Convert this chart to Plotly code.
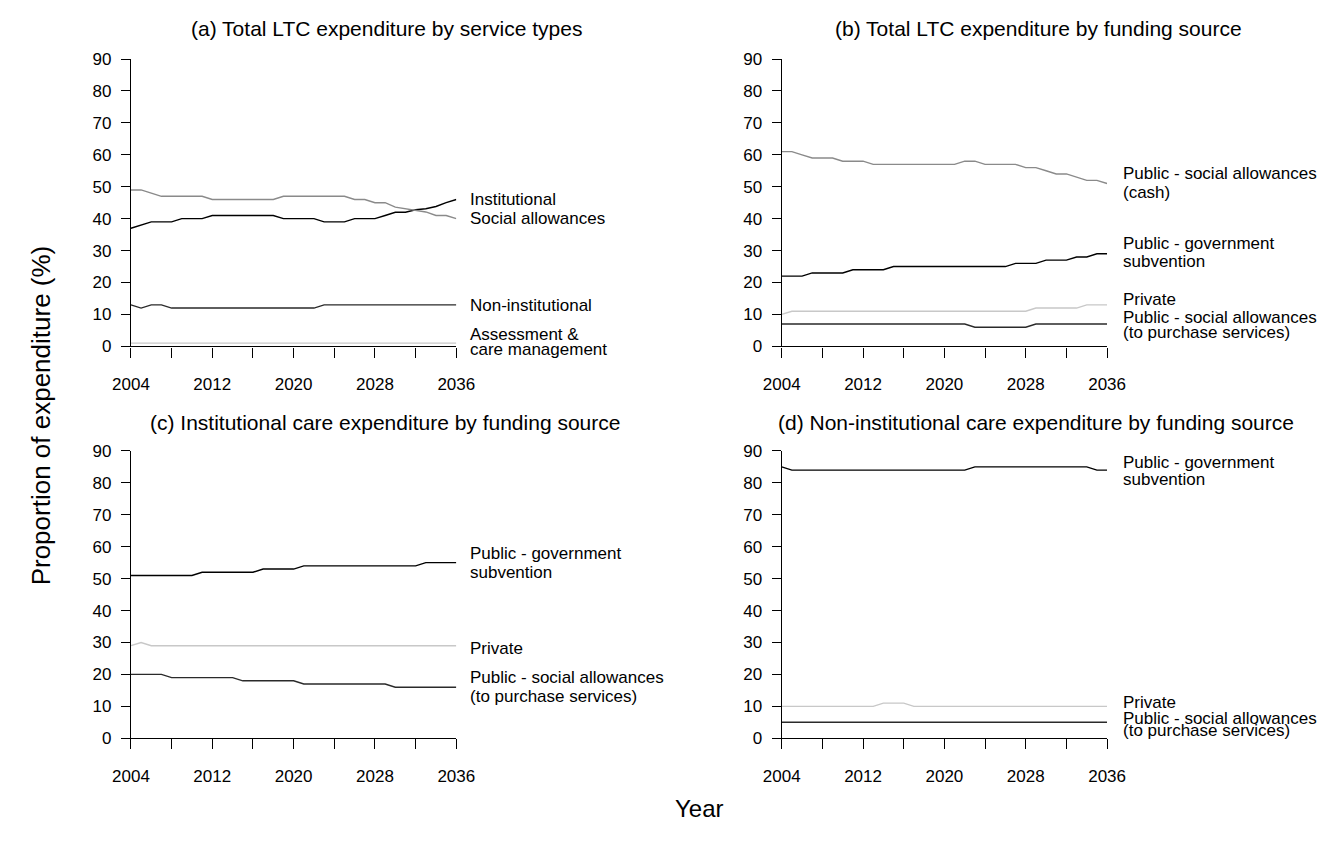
import plotly.graph_objects as go

# ---------------- data ----------------
years = [2004, 2005, 2006, 2007, 2008, 2009, 2010, 2011, 2012, 2013, 2014,
         2015, 2016, 2017, 2018, 2019, 2020, 2021, 2022, 2023, 2024, 2025,
         2026, 2027, 2028, 2029, 2030, 2031, 2032, 2033, 2034, 2035, 2036]

# (a) Total LTC expenditure by service types
a_institutional = [37, 38, 39, 39, 39, 40, 40, 40, 41, 41, 41, 41, 41, 41, 41, 40, 40,
                   40, 40, 39, 39, 39, 40, 40, 40, 41, 42, 42, 42.8, 43.1, 43.8, 45, 46]
a_social = [49, 49, 48, 47, 47, 47, 47, 47, 46, 46, 46, 46, 46, 46, 46, 47, 47,
            47, 47, 47, 47, 47, 46, 46, 45, 45, 43.6, 43.1, 42.8, 42.1, 41, 41, 40]
a_noninst = [13, 12, 13, 13, 12, 12, 12, 12, 12, 12, 12, 12, 12, 12, 12, 12, 12,
             12, 12, 13, 13, 13, 13, 13, 13, 13, 13, 13, 13, 13, 13, 13, 13]
a_assess = [1, 1, 1, 1, 1, 1, 1, 1, 1, 1, 1, 1, 1, 1, 1, 1, 1,
            1, 1, 1, 1, 1, 1, 1, 1, 1, 1, 1, 1, 1, 1, 1, 1]

# (b) Total LTC expenditure by funding source
b_cash = [61, 61, 60, 59, 59, 59, 58, 58, 58, 57, 57, 57, 57, 57, 57, 57, 57,
          57, 58, 58, 57, 57, 57, 57, 56, 56, 55, 54, 54, 53, 52, 52, 51]
b_subvention = [22, 22, 22, 23, 23, 23, 23, 24, 24, 24, 24, 25, 25, 25, 25, 25, 25,
                25, 25, 25, 25, 25, 25, 26, 26, 26, 27, 27, 27, 28, 28, 29, 29]
b_private = [10, 11, 11, 11, 11, 11, 11, 11, 11, 11, 11, 11, 11, 11, 11, 11, 11,
             11, 11, 11, 11, 11, 11, 11, 11, 12, 12, 12, 12, 12, 13, 13, 13]
b_purchase = [7, 7, 7, 7, 7, 7, 7, 7, 7, 7, 7, 7, 7, 7, 7, 7, 7,
              7, 7, 6, 6, 6, 6, 6, 6, 7, 7, 7, 7, 7, 7, 7, 7]

# (c) Institutional care expenditure by funding source
c_subvention = [51, 51, 51, 51, 51, 51, 51, 52, 52, 52, 52, 52, 52, 53, 53, 53, 53,
                54, 54, 54, 54, 54, 54, 54, 54, 54, 54, 54, 54, 55, 55, 55, 55]
c_private = [29, 30, 29, 29, 29, 29, 29, 29, 29, 29, 29, 29, 29, 29, 29, 29, 29,
             29, 29, 29, 29, 29, 29, 29, 29, 29, 29, 29, 29, 29, 29, 29, 29]
c_purchase = [20, 20, 20, 20, 19, 19, 19, 19, 19, 19, 19, 18, 18, 18, 18, 18, 18,
              17, 17, 17, 17, 17, 17, 17, 17, 17, 16, 16, 16, 16, 16, 16, 16]

# (d) Non-institutional care expenditure by funding source
d_subvention = [85, 84, 84, 84, 84, 84, 84, 84, 84, 84, 84, 84, 84, 84, 84, 84, 84,
                84, 84, 85, 85, 85, 85, 85, 85, 85, 85, 85, 85, 85, 85, 84, 84]
d_private = [10, 10, 10, 10, 10, 10, 10, 10, 10, 10, 11, 11, 11, 10, 10, 10, 10,
             10, 10, 10, 10, 10, 10, 10, 10, 10, 10, 10, 10, 10, 10, 10, 10]
d_purchase = [5, 5, 5, 5, 5, 5, 5, 5, 5, 5, 5, 5, 5, 5, 5, 5, 5,
              5, 5, 5, 5, 5, 5, 5, 5, 5, 5, 5, 5, 5, 5, 5, 5]

x_tickvals = [2004, 2008, 2012, 2016, 2020, 2024, 2028, 2032, 2036]
x_ticktext = ["2004", "", "2012", "", "2020", "", "2028", "", "2036"]
y_tickvals = [0, 10, 20, 30, 40, 50, 60, 70, 80, 90]

titles = ["(a) Total LTC expenditure by service types",
          "(b) Total LTC expenditure by funding source",
          "(c) Institutional care expenditure by funding source",
          "(d) Non-institutional care expenditure by funding source"]

# ---------------- styling ----------------
BLACK = "#000000"
DARK = "#2a2a2a"
GRAY = "#8a8a8a"
LIGHT = "#c8c8c8"
FONT = "Liberation Sans, Arial, Helvetica, sans-serif"

W, H = 1324, 838   # figure size (page body adds 8px margin)
OFF = 8


def px_x(p):
    return (p - OFF) / W


def px_y(p):
    return 1 - (p - OFF) / H


left_dom = [px_x(115), px_x(450)]
right_dom = [px_x(785), px_x(1120)]
top_dom = [px_y(345), px_y(51)]
bot_dom = [px_y(746), px_y(452)]

# panel: (series, x domain, y domain, title x-center px, title y px, label xshift)
panels = [
    ([(a_institutional, BLACK, [("Institutional", 0)]),
      (a_social, GRAY, [("Social allowances", 0)]),
      (a_noninst, DARK, [("Non-institutional", -1)]),
      (a_assess, LIGHT, [("Assessment &", 9), ("care management", -6)])],
     left_dom, top_dom, 378, 20, 12),
    ([(b_cash, GRAY, [("Public - social allowances", 10), ("(cash)", -9)]),
      (b_subvention, BLACK, [("Public - government", 10), ("subvention", -8)]),
      (b_private, LIGHT, [("Private", 5)]),
      (b_purchase, DARK, [("Public - social allowances", 7), ("(to purchase services)", -8)])],
     right_dom, top_dom, 1049, 20, 14),
    ([(c_subvention, BLACK, [("Public - government", 9), ("subvention", -10)]),
      (c_private, LIGHT, [("Private", -3)]),
      (c_purchase, DARK, [("Public - social allowances", 10), ("(to purchase services)", -9)])],
     left_dom, bot_dom, 377, 423, 12),
    ([(d_subvention, BLACK, [("Public - government", 8), ("subvention", -9)]),
      (d_private, LIGHT, [("Private", 4)]),
      (d_purchase, DARK, [("Public - social allowances", 4), ("(to purchase services)", -8)])],
     right_dom, bot_dom, 1047, 423, 14),
]

fig = go.Figure()
annotations = []
layout_axes = {}

for i, (series, xdom, ydom, tx, ty, lx) in enumerate(panels):
    n = "" if i == 0 else str(i + 1)
    xref, yref = "x" + n, "y" + n
    for vals, color, labels in series:
        fig.add_trace(go.Scatter(x=years, y=vals, mode="lines",
                                 line=dict(color=color, width=1.4),
                                 xaxis=xref, yaxis=yref, showlegend=False,
                                 hoverinfo="skip"))
        for text, shift in labels:
            annotations.append(dict(x=years[-1], y=vals[-1], xref=xref, yref=yref,
                                    text=text, showarrow=False, xanchor="left",
                                    yanchor="middle", xshift=lx, yshift=shift,
                                    font=dict(family=FONT, size=17, color="#000")))
    annotations.append(dict(x=px_x(tx), y=px_y(ty), xref="paper", yref="paper",
                            text=titles[i], showarrow=False, xanchor="center",
                            yanchor="middle",
                            font=dict(family=FONT, size=21, color="#000")))
    layout_axes["xaxis" + n] = dict(
        domain=xdom, anchor=yref, range=[2004, 2036], tickmode="array",
        tickvals=x_tickvals, ticktext=x_ticktext, ticks="outside", ticklen=10,
        tickwidth=1.3, tickcolor="#000", showline=True, linecolor="#000",
        linewidth=1.3, showgrid=False, zeroline=False, ticklabelstandoff=12,
        tickfont=dict(family=FONT, size=17, color="#000"))
    layout_axes["yaxis" + n] = dict(
        domain=ydom, anchor=xref, range=[0, 90], tickmode="array",
        tickvals=y_tickvals, ticks="outside", ticklen=9, tickwidth=1.3,
        tickcolor="#000", showline=True, linecolor="#000", linewidth=1.3,
        showgrid=False, zeroline=False, ticklabelstandoff=6,
        tickfont=dict(family=FONT, size=17, color="#000"))

annotations.append(dict(x=px_x(22), y=px_y(416), xref="paper", yref="paper",
                        text="Proportion of expenditure (%)", showarrow=False,
                        textangle=-90, xanchor="center", yanchor="middle",
                        font=dict(family=FONT, size=26, color="#000")))
annotations.append(dict(x=px_x(700), y=px_y(818), xref="paper", yref="paper",
                        text="Year", showarrow=False, xanchor="center",
                        yanchor="middle",
                        font=dict(family=FONT, size=24, color="#000")))

fig.update_layout(width=W, height=H, margin=dict(l=0, r=0, t=0, b=0),
                  paper_bgcolor="white", plot_bgcolor="white",
                  annotations=annotations, **layout_axes)

fig.write_html("out.html")
